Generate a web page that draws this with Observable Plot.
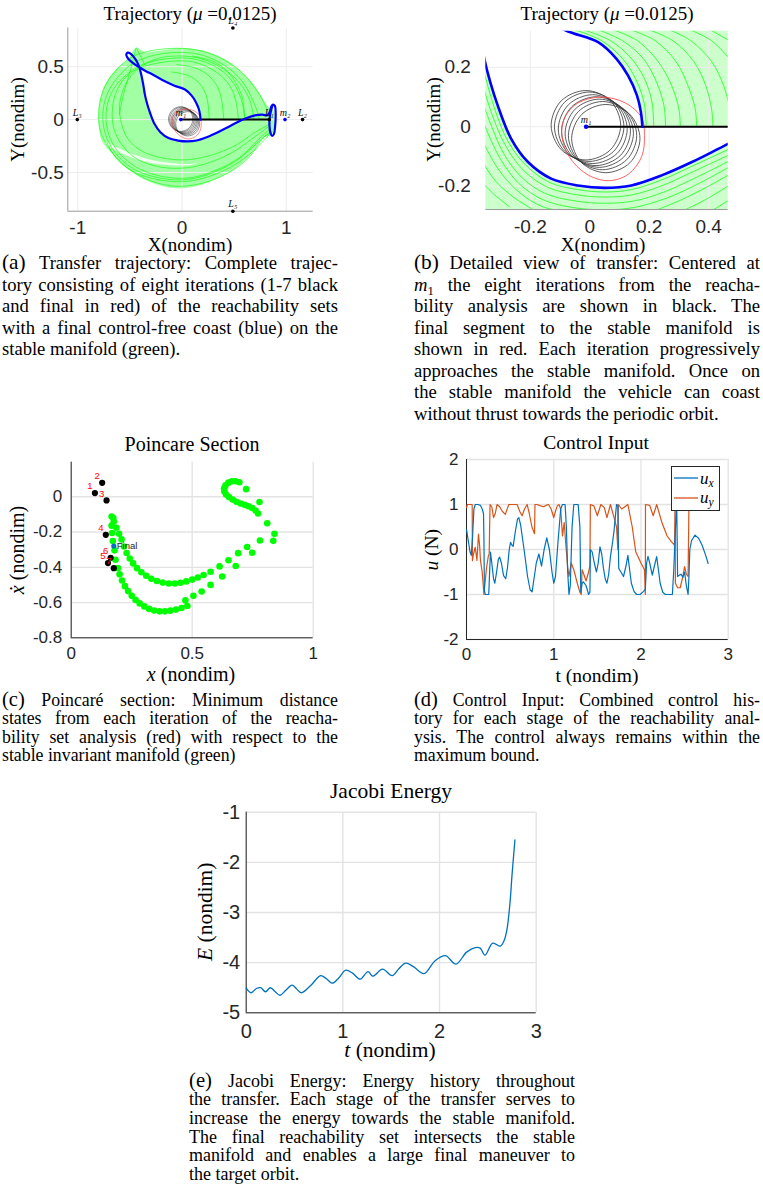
<!DOCTYPE html>
<html><head><meta charset="utf-8">
<script src="https://cdn.jsdelivr.net/npm/d3@7"></script>
<script src="https://cdn.jsdelivr.net/npm/@observablehq/plot@0.6"></script>
<style>
html,body{margin:0;padding:0;background:#fff;overflow:hidden;}
#root{position:relative;width:763px;height:1198px;overflow:hidden;background:#fff;}
.t{position:absolute;line-height:1;color:#000;white-space:nowrap;}
.cap{position:absolute;line-height:1;height:1em;color:#000;font-family:"Liberation Serif","Times New Roman",serif;text-align:justify;text-align-last:justify;}
.cap.last{text-align:left;text-align-last:left;}
.cap .lab{font-size:1.15em;line-height:0;}
sub{font-size:0.68em;vertical-align:-0.28em;line-height:0;}
</style></head><body><div id="root"></div>
<script>
// ---------------- DATA ----------------
// (a)/(b) trajectory: final control-free coast (blue)
const blueCoast = [[0.177,0.0],[0.172,0.05],[0.159,0.105],[0.129,0.172],[0.09,0.229],[0.028,0.285],[-0.073,0.321],[-0.17,0.365],[-0.27,0.42],[-0.35,0.46],[-0.41,0.495],[-0.45,0.52],[-0.49,0.55],[-0.52,0.58],[-0.535,0.61],[-0.525,0.632],[-0.5,0.628],[-0.47,0.6],[-0.44,0.56],[-0.42,0.52],[-0.41,0.495],[-0.39,0.42],[-0.372,0.33],[-0.355,0.229],[-0.335,0.15],[-0.31,0.072],[-0.265,-0.04],[-0.208,-0.119],[-0.13,-0.175],[-0.04,-0.198],[0.05,-0.206],[0.14,-0.198],[0.242,-0.164],[0.344,-0.119],[0.434,-0.074],[0.53,-0.025],[0.62,0.015],[0.7,0.04],[0.77,0.047],[0.815,0.04],[0.84,0.07],[0.855,0.12],[0.872,0.142],[0.89,0.13],[0.898,0.05],[0.893,-0.06],[0.882,-0.135],[0.865,-0.155],[0.848,-0.125],[0.838,-0.05],[0.842,0.03],[0.855,0.09],[0.868,0.14]];
// reachability iterations 1-7 (black) around m1
const iterCircles = [
 [[0.104,0.005],[0.0697,0.0877],[-0.013,0.122],[-0.0957,0.0877],[-0.13,0.005],[-0.0957,-0.0777],[-0.013,-0.112],[0.0697,-0.0777]],
 [[0.115,0.0],[0.0807,0.0827],[-0.002,0.117],[-0.0847,0.0827],[-0.119,0.0],[-0.0847,-0.0827],[-0.002,-0.117],[0.0807,-0.0827]],
 [[0.126,-0.008],[0.092,0.074],[0.01,0.108],[-0.072,0.074],[-0.106,-0.008],[-0.072,-0.09],[0.01,-0.124],[0.092,-0.09]],
 [[0.137,-0.015],[0.103,0.067],[0.021,0.101],[-0.061,0.067],[-0.095,-0.015],[-0.061,-0.097],[0.021,-0.131],[0.103,-0.097]],
 [[0.147,-0.022],[0.1133,0.0593],[0.032,0.093],[-0.0493,0.0593],[-0.083,-0.022],[-0.0493,-0.1033],[0.032,-0.137],[0.1133,-0.1033]],
 [[0.158,-0.03],[0.1243,0.0513],[0.043,0.085],[-0.0383,0.0513],[-0.072,-0.03],[-0.0383,-0.1113],[0.043,-0.145],[0.1243,-0.1113]],
 [[0.169,-0.04],[0.1353,0.0413],[0.054,0.075],[-0.0273,0.0413],[-0.061,-0.04],[-0.0273,-0.1213],[0.054,-0.155],[0.1353,-0.1213]]
];
// final segment (red)
const finalSegment = [[0.184,-0.03],[0.175,0.03],[0.12,0.08],[0.04,0.1],[-0.04,0.08],[-0.085,0.03],[-0.094,-0.03],[-0.07,-0.1],[-0.01,-0.16],[0.062,-0.182],[0.13,-0.16],[0.175,-0.1]];
// Poincare section line (black) from m1 towards L1
const sectionLine = [[-0.0125,0],[0.84,0]];
// stable manifold (green) in (a): envelope, white gaps, and traced trajectories
const aBandOuter = [[-0.44,0.68],[-0.36,0.64],[-0.22,0.65],[-0.05,0.675],[0.1,0.67],[0.25,0.64],[0.43,0.56],[0.57,0.45],[0.68,0.34],[0.77,0.21],[0.83,0.12],[0.87,0.1],[0.89,0.02],[0.88,-0.1],[0.85,-0.15],[0.78,-0.17],[0.7,-0.27],[0.62,-0.37],[0.5,-0.47],[0.39,-0.53],[0.17,-0.62],[-0.06,-0.65],[-0.31,-0.59],[-0.53,-0.46],[-0.69,-0.3],[-0.77,-0.2],[-0.8,-0.05],[-0.8,0.1],[-0.78,0.22],[-0.73,0.35],[-0.63,0.48],[-0.52,0.57]];
const aGapTeardrop = [[0.177,0.0],[0.159,0.105],[0.129,0.172],[0.09,0.229],[0.028,0.285],[-0.073,0.321],[-0.17,0.365],[-0.27,0.42],[-0.35,0.46],[-0.41,0.495],[-0.39,0.42],[-0.372,0.33],[-0.355,0.229],[-0.31,0.072],[-0.265,-0.04],[-0.208,-0.119],[-0.13,-0.175],[-0.04,-0.198],[0.05,-0.206],[0.14,-0.198],[0.242,-0.164],[0.344,-0.119],[0.434,-0.074],[0.53,-0.025],[0.57,-0.005],[0.177,-0.005]];
const aGapCrescent = [[-0.74,-0.21],[-0.62,-0.265],[-0.45,-0.335],[-0.28,-0.385],[-0.1,-0.412],[0.05,-0.42],[0.14,-0.415],[0.05,-0.432],[-0.1,-0.432],[-0.28,-0.412],[-0.45,-0.37],[-0.62,-0.3],[-0.74,-0.225]];
const aManifold = [
 [[0.86,-0.12],[0.78,-0.17],[0.64,-0.36],[0.45,-0.5],[0.2,-0.6],[-0.05,-0.63],[-0.3,-0.58],[-0.52,-0.46],[-0.68,-0.3],[-0.78,-0.12],[-0.8,0.05],[-0.78,0.2],[-0.72,0.35],[-0.62,0.48],[-0.5,0.58],[-0.35,0.64],[-0.15,0.67],[0.05,0.67],[0.25,0.63],[0.43,0.55],[0.58,0.44],[0.7,0.3],[0.78,0.17],[0.83,0.05],[0.84,0.0]],
 [[0.85,-0.08],[0.72,-0.2],[0.55,-0.36],[0.32,-0.48],[0.08,-0.55],[-0.18,-0.54],[-0.42,-0.46],[-0.6,-0.32],[-0.7,-0.15],[-0.73,0.03],[-0.7,0.2],[-0.62,0.34],[-0.5,0.45],[-0.36,0.53],[-0.18,0.59],[0.02,0.6],[0.2,0.57],[0.36,0.5],[0.5,0.4],[0.6,0.28],[0.66,0.15],[0.69,0.0]],
 [[0.85,-0.04],[0.7,-0.12],[0.52,-0.24],[0.3,-0.33],[0.05,-0.38],[-0.2,-0.36],[-0.4,-0.29],[-0.52,-0.18],[-0.58,-0.04],[-0.6,0.12],[-0.57,0.27],[-0.5,0.4],[-0.42,0.48],[-0.3,0.52],[-0.12,0.55],[0.08,0.55],[0.24,0.5],[0.38,0.41],[0.47,0.3],[0.52,0.16],[0.54,0.0]],
 [[0.84,-0.14],[0.68,-0.3],[0.5,-0.43],[0.28,-0.53],[0.04,-0.585],[-0.22,-0.57],[-0.45,-0.5],[-0.62,-0.38],[-0.72,-0.22]],
 [[0.85,-0.11],[0.7,-0.24],[0.52,-0.39],[0.3,-0.5],[0.06,-0.565],[-0.2,-0.555],[-0.44,-0.48],[-0.61,-0.35],[-0.72,-0.18],[-0.76,0.0],[-0.74,0.18],[-0.67,0.33],[-0.56,0.46],[-0.44,0.55],[-0.26,0.61],[-0.05,0.635],[0.15,0.62],[0.32,0.56],[0.48,0.46],[0.6,0.33],[0.68,0.18],[0.73,0.05],[0.74,0.0]],
 [[0.84,-0.06],[0.7,-0.16],[0.5,-0.3],[0.28,-0.4],[0.05,-0.455],[-0.2,-0.45],[-0.42,-0.38],[-0.56,-0.26],[-0.65,-0.1],[-0.67,0.07],[-0.64,0.24],[-0.56,0.38],[-0.45,0.47],[-0.3,0.545],[-0.1,0.58],[0.1,0.575],[0.28,0.52],[0.42,0.43],[0.52,0.3],[0.58,0.15],[0.6,0.0]],
 [[-0.1,0.45],[0.05,0.42],[0.15,0.36],[0.22,0.26],[0.25,0.14],[0.26,0.0]],
 [[-0.05,0.52],[0.12,0.49],[0.25,0.42],[0.34,0.31],[0.38,0.18],[0.4,0.0]],
 [[0.1,0.6],[0.3,0.55],[0.43,0.46],[0.52,0.34],[0.58,0.2],[0.6,0.0]],
 [[-0.6,0.05],[-0.56,0.25],[-0.5,0.45],[-0.46,0.6],[-0.44,0.675],[-0.41,0.62],[-0.36,0.52]]
];
// stable manifold (green) in the detailed view (b)
const bFanUpper = [[-0.08,0.33],[-0.073,0.321],[0.028,0.285],[0.09,0.229],[0.129,0.172],[0.159,0.105],[0.172,0.05],[0.177,0.0],[0.48,0.0],[0.48,0.33]];
const bFanLower = [[-0.36,0.24],[-0.355,0.229],[-0.335,0.15],[-0.31,0.072],[-0.265,-0.04],[-0.208,-0.119],[-0.13,-0.175],[-0.04,-0.198],[0.05,-0.206],[0.14,-0.198],[0.242,-0.164],[0.344,-0.119],[0.434,-0.074],[0.48,-0.05],[0.48,-0.29],[-0.36,-0.29]];
const bManifold = [
 [[-0.06,0.33],[0.04,0.29],[0.11,0.23],[0.155,0.16],[0.183,0.08],[0.19,0.0]],
 [[-0.03,0.33],[0.07,0.29],[0.14,0.23],[0.185,0.16],[0.21,0.08],[0.215,0.0]],
 [[0.02,0.33],[0.11,0.29],[0.18,0.23],[0.225,0.15],[0.25,0.07],[0.255,0.0]],
 [[0.07,0.33],[0.16,0.29],[0.23,0.22],[0.275,0.14],[0.3,0.06],[0.305,0.0]],
 [[0.13,0.33],[0.22,0.29],[0.29,0.22],[0.33,0.14],[0.355,0.06],[0.36,0.0]],
 [[0.19,0.33],[0.28,0.29],[0.35,0.22],[0.39,0.14],[0.41,0.06],[0.415,0.0]],
 [[0.26,0.33],[0.34,0.29],[0.41,0.22],[0.45,0.14],[0.47,0.07]],
 [[0.33,0.33],[0.41,0.29],[0.47,0.23]],
 [[0.4,0.33],[0.47,0.29]],
 [[-0.36,0.2],[-0.32,0.06],[-0.275,-0.05],[-0.215,-0.13],[-0.135,-0.188],[-0.04,-0.212],[0.05,-0.22],[0.14,-0.212],[0.24,-0.18],[0.34,-0.135],[0.48,-0.07]],
 [[-0.36,0.14],[-0.325,0.03],[-0.28,-0.07],[-0.22,-0.15],[-0.14,-0.205],[-0.04,-0.23],[0.05,-0.237],[0.14,-0.23],[0.24,-0.2],[0.34,-0.155],[0.48,-0.09]],
 [[-0.36,0.08],[-0.33,0.0],[-0.29,-0.09],[-0.23,-0.17],[-0.15,-0.225],[-0.05,-0.25],[0.05,-0.258],[0.15,-0.25],[0.25,-0.22],[0.35,-0.175],[0.48,-0.11]],
 [[-0.36,0.02],[-0.335,-0.04],[-0.3,-0.11],[-0.24,-0.19],[-0.16,-0.245],[-0.06,-0.272],[0.05,-0.28],[0.15,-0.272],[0.26,-0.24],[0.36,-0.195],[0.48,-0.13]],
 [[-0.36,-0.05],[-0.31,-0.14],[-0.25,-0.21],[-0.17,-0.265],[-0.08,-0.29]],
 [[-0.36,-0.12],[-0.32,-0.18],[-0.26,-0.235],[-0.19,-0.28]],
 [[-0.36,-0.19],[-0.32,-0.23],[-0.27,-0.27]],
 [[0.2,-0.29],[0.3,-0.25],[0.4,-0.2],[0.48,-0.155]],
 [[0.3,-0.29],[0.4,-0.24],[0.48,-0.19]],
 [[0.4,-0.29],[0.48,-0.24]]
];
// primaries and libration points
const markName = ["L₁","L₂","L₃","L₄","L₅","m₁","m₂"];
const markX = [0.837,1.156,-1.005,0.4875,0.4875,-0.0125,0.9875];
const markY = [0,0,0,0.866,-0.866,0,0];
const markKind = ["lib","lib","lib","lib","lib","primary","primary"];

// (c) Poincare section
const iterLabel = ["1","2","3","4","5","6","7"];
const iterX = [0.098,0.128,0.146,0.143,0.152,0.163,0.176];
const iterY = [0.021,0.079,-0.021,-0.216,-0.376,-0.346,-0.405];
const finalLabel = "Final";
const finalX = 0.176, finalY = -0.28;
const manifoldHookLeft = [[0.167,-0.112],[0.174,-0.121],[0.176,-0.14]];
const manifoldUpper = [[0.187,-0.176],[0.198,-0.21],[0.208,-0.242],[0.218,-0.282],[0.229,-0.319],[0.242,-0.35],[0.256,-0.378],[0.272,-0.405],[0.29,-0.428],[0.31,-0.448],[0.331,-0.465],[0.354,-0.478],[0.378,-0.487],[0.403,-0.492],[0.428,-0.492],[0.452,-0.488],[0.476,-0.48],[0.5,-0.47],[0.523,-0.458],[0.547,-0.444],[0.576,-0.425],[0.613,-0.395],[0.65,-0.36],[0.69,-0.32],[0.727,-0.285],[0.78,-0.248],[0.835,-0.25]];
const manifoldLower = [[0.167,-0.164],[0.169,-0.206],[0.172,-0.251],[0.179,-0.304],[0.183,-0.357],[0.193,-0.405],[0.2,-0.44],[0.21,-0.475],[0.222,-0.507],[0.235,-0.535],[0.25,-0.562],[0.266,-0.585],[0.283,-0.605],[0.302,-0.622],[0.322,-0.636],[0.343,-0.645],[0.365,-0.65],[0.387,-0.65],[0.41,-0.646],[0.433,-0.64],[0.456,-0.631],[0.48,-0.62],[0.505,-0.562],[0.472,-0.588],[0.539,-0.537],[0.576,-0.5],[0.624,-0.452],[0.68,-0.393],[0.748,-0.318]];
const manifoldHookRight = [[0.695,0.082],[0.68,0.088],[0.664,0.088],[0.65,0.08],[0.638,0.065],[0.632,0.048],[0.633,0.03],[0.64,0.013],[0.652,-0.002],[0.667,-0.016],[0.683,-0.028],[0.7,-0.038],[0.717,-0.046],[0.733,-0.054],[0.748,-0.064],[0.762,-0.078],[0.772,-0.095]];
const manifoldOuter = [[0.723,0.043],[0.778,-0.03],[0.81,-0.15],[0.84,-0.21]];

// (d) control input
const uxT = [0,0.02,0.04,0.055,0.07,0.085,0.1,0.13,0.16,0.18,0.195,0.2,0.205,0.215,0.255,0.265,0.275,0.29,0.31,0.325,0.345,0.365,0.38,0.4,0.425,0.45,0.47,0.49,0.505,0.52,0.535,0.56,0.585,0.6,0.62,0.66,0.7,0.73,0.752,0.77,0.8,0.83,0.86,0.89,0.92,0.95,0.98,1.0,1.02,1.05,1.08,1.1,1.13,1.145,1.16,1.175,1.19,1.21,1.23,1.28,1.3,1.31,1.325,1.34,1.37,1.4,1.415,1.42,1.44,1.465,1.49,1.51,1.53,1.55,1.57,1.59,1.61,1.63,1.65,1.67,1.69,1.71,1.72,1.735,1.745,1.77,1.8,1.83,1.85,1.87,1.89,1.92,1.95,1.99,2.03,2.05,2.065,2.08,2.1,2.13,2.15,2.18,2.2,2.22,2.25,2.28,2.36,2.375,2.39,2.405,2.41,2.415,2.42,2.44,2.46,2.48,2.5,2.52,2.54,2.55,2.56,2.58,2.62,2.66,2.7,2.74,2.77];
const uxV = [0.45,0.2,-0.05,-0.13,0.3,0.9,1.0,1.0,0.98,0.9,0.8,0.2,-0.9,-1.0,-1.0,-0.5,-0.06,-0.3,-0.65,-0.75,-0.5,-0.22,-0.17,-0.3,-0.58,-0.65,-0.4,0.0,0.16,0.1,0.07,0.4,0.68,0.71,0.55,0.0,-0.6,-0.9,-0.94,-0.7,-0.3,-0.1,-0.37,0.0,0.26,0.0,-0.5,-0.75,-0.6,0.2,0.9,1.0,1.0,0.5,-0.5,-1.0,-0.8,0.5,1.0,1.0,0.5,-0.95,-0.75,-0.72,-0.8,-1.0,-0.95,0.0,-0.05,-0.3,-0.5,-0.3,0.06,-0.1,-0.42,-0.65,-0.75,-0.55,-0.16,0.1,0.39,0.8,1.0,0.98,-0.42,-0.5,-0.6,-0.35,-0.13,-0.45,-0.75,-0.93,-1.0,-1.0,-0.93,-0.88,-0.3,-0.15,-0.3,-0.57,-0.4,-0.16,-0.45,-0.75,-0.95,-1.0,-1.0,-0.5,0.2,0.9,1.0,0.2,-0.6,-0.57,-0.55,-0.62,-0.5,-0.8,-1.0,-0.6,0.0,0.2,0.32,0.25,0.1,-0.12,-0.31];
const uyT = [0,0.01,0.065,0.068,0.08,0.1,0.12,0.137,0.15,0.16,0.18,0.2,0.215,0.23,0.25,0.26,0.265,0.27,0.29,0.31,0.33,0.35,0.38,0.41,0.445,0.47,0.485,0.54,0.58,0.61,0.637,0.665,0.695,0.72,0.75,0.78,0.785,0.81,0.85,0.885,0.91,0.94,0.97,1.0,1.02,1.04,1.06,1.08,1.1,1.12,1.135,1.16,1.175,1.2,1.23,1.27,1.3,1.315,1.325,1.345,1.37,1.4,1.415,1.42,1.46,1.5,1.54,1.58,1.61,1.65,1.69,1.72,1.735,1.74,1.78,1.85,1.9,1.94,2.0,2.04,2.05,2.052,2.1,2.14,2.18,2.24,2.3,2.35,2.385,2.39,2.395,2.42,2.45,2.48,2.5,2.52,2.54,2.55,2.56];
const uyV = [0.93,1.0,1.0,-0.25,-0.1,0.05,-0.24,0.34,0.1,-0.24,-0.5,-1.0,-0.7,-0.4,-0.15,-0.1,0.5,1.0,0.95,0.71,0.8,1.0,0.95,0.85,0.78,0.92,1.0,1.0,1.0,0.85,0.75,0.9,1.0,0.8,0.5,0.35,1.0,1.0,0.97,0.95,0.98,1.0,0.9,0.71,0.85,0.97,1.0,0.9,0.3,0.6,0.2,-0.4,-0.6,-0.3,-0.45,-0.75,-0.95,-1.0,-0.45,-0.55,-0.7,-0.5,-0.35,1.0,0.97,0.75,1.0,0.93,0.71,1.0,0.72,0.5,0.0,1.0,0.9,1.0,0.5,-0.05,-0.3,-0.45,-1.0,1.0,0.98,0.75,1.0,0.6,0.3,0.17,0.1,1.0,-0.75,-0.85,-0.85,-0.6,-0.38,-0.55,-0.6,1.0,1.0];

// (e) Jacobi energy
const jacT = [0,0.05,0.11,0.15,0.2,0.25,0.3,0.35,0.41,0.475,0.52,0.57,0.67,0.77,0.83,0.89,0.96,1.03,1.1,1.18,1.26,1.31,1.41,1.51,1.58,1.65,1.73,1.84,1.95,2.06,2.17,2.28,2.37,2.42,2.47,2.55,2.63,2.67,2.7,2.73,2.75,2.78];
const jacE = [-4.51,-4.6,-4.51,-4.5,-4.58,-4.5,-4.58,-4.65,-4.55,-4.45,-4.52,-4.6,-4.45,-4.26,-4.32,-4.41,-4.3,-4.15,-4.21,-4.33,-4.18,-4.27,-4.13,-4.26,-4.12,-4.01,-4.08,-4.22,-3.97,-3.86,-4.03,-3.79,-3.7,-3.71,-3.85,-3.61,-3.67,-3.55,-3.31,-2.78,-2.25,-1.55];

// ---------------- HELPERS ----------------
const root = document.getElementById("root");
const SERIF = '"Liberation Serif","Times New Roman",serif';
const SANS = '"Liberation Sans",Arial,Helvetica,sans-serif';
const fmt = d => String(d);
const P = arr => arr.map(p => ({x: p[0], y: p[1]}));
const M = curves => curves.flatMap((c, i) => c.map(p => ({x: p[0], y: p[1], id: i})));
const zipXY = (xs, ys) => xs.map((x, i) => ({x, y: ys[i]}));

function place(el, left, top) {
  el.style.position = "absolute"; el.style.left = left + "px"; el.style.top = top + "px";
  root.appendChild(el);
}
function chart(o) {
  return Plot.plot({
    width: o.w, height: o.h, marginLeft: o.ml, marginRight: o.mr, marginTop: o.mt, marginBottom: o.mb,
    x: {domain: o.xd, ticks: o.xt, tickSize: 0, tickPadding: o.xp, tickFormat: fmt, label: null},
    y: {domain: o.yd, ticks: o.yt, tickSize: 0, tickPadding: o.yp, tickFormat: fmt, label: null},
    style: {fontFamily: SANS, fontSize: o.fs + "px", color: "#262626", background: "transparent", overflow: "visible"},
    marks: o.marks
  });
}
function text(html, x, baseline, size, opt = {}) {
  const d = document.createElement("div");
  d.className = "t";
  d.innerHTML = html;
  d.style.fontFamily = opt.family || SERIF;
  d.style.fontSize = size + "px";
  d.style.top = (baseline - 0.84 * size) + "px";
  const w = opt.w || 240;
  d.style.left = (x - w / 2) + "px";
  d.style.width = w + "px";
  d.style.textAlign = "center";
  root.appendChild(d);
}
function vtext(html, cx, cy, size) {
  const d = document.createElement("div");
  d.className = "t";
  d.innerHTML = html;
  d.style.fontFamily = SERIF;
  d.style.fontSize = size + "px";
  d.style.width = "120px"; d.style.height = size + "px";
  d.style.left = (cx - 60) + "px"; d.style.top = (cy - size / 2) + "px";
  d.style.textAlign = "center";
  d.style.transform = "rotate(-90deg)";
  root.appendChild(d);
}
function caption(lines, left, width, base0, step, size) {
  lines.forEach((ln, i) => {
    const d = document.createElement("div");
    d.className = "cap" + (i === lines.length - 1 ? " last" : "");
    d.innerHTML = ln;
    d.style.left = left + "px"; d.style.width = width + "px";
    d.style.fontSize = size + "px";
    d.style.top = (base0 + i * step - 0.84 * size) + "px";
    root.appendChild(d);
  });
}
const marks = markName.map((n, i) => ({name: n, x: markX[i], y: markY[i], kind: markKind[i]}));
const kindColor = k => (k === "primary" ? "#0000ff" : "#000000");

// ---------------- (a) ----------------
const aXT = [-1, 0, 1], aYT = [-0.5, 0, 0.5];
place(chart({
  w: 380, h: 260, ml: 67.3, mr: 67.3, mt: 27.5, mb: 49.3,
  xd: [-1.096, 1.258], yd: [-0.866, 0.866], xt: aXT, yt: aYT, xp: 9, yp: 4, fs: 19,
  marks: [
    Plot.line(P(aBandOuter), {x: "x", y: "y", fill: "#00ff00", fillOpacity: 0.36, stroke: "none", curve: "catmull-rom-closed", clip: true}),
    Plot.line(P(aGapTeardrop), {x: "x", y: "y", fill: "#fff", stroke: "none", curve: "linear-closed", clip: true}),
    Plot.line(P(aGapCrescent), {x: "x", y: "y", fill: "#fff", fillOpacity: 0.85, stroke: "none", curve: "catmull-rom-closed", clip: true}),
    Plot.ruleX(aXT, {stroke: "#ededed"}),
    Plot.ruleY(aYT, {stroke: "#ededed"}),
    Plot.line(M(aManifold), {x: "x", y: "y", z: "id", stroke: "#00ff00", strokeWidth: 0.6, curve: "catmull-rom", clip: true}),
    Plot.ruleX([-1.096], {stroke: "#9a9a9a"}),
    Plot.ruleY([-0.866], {stroke: "#9a9a9a"}),
    Plot.line(M(iterCircles), {x: "x", y: "y", z: "id", stroke: "#222", strokeWidth: 0.5, curve: "catmull-rom-closed"}),
    Plot.line(P(finalSegment), {x: "x", y: "y", stroke: "#ff4040", strokeWidth: 0.6, curve: "catmull-rom-closed"}),
    Plot.line(P(sectionLine), {x: "x", y: "y", stroke: "#000", strokeWidth: 2}),
    Plot.line(P(blueCoast), {x: "x", y: "y", stroke: "#0000ff", strokeWidth: 2.2, curve: "catmull-rom"}),
    Plot.dot(marks, {x: "x", y: "y", r: 1.8, fill: d => kindColor(d.kind), stroke: "none"}),
    Plot.text(marks, {x: "x", y: "y", text: "name", dy: -7, fontSize: 10, fontStyle: "italic", fontFamily: SERIF, fill: "#111"})
  ]
}), 0, 0);

// ---------------- (b) ----------------
const bXT = [-0.2, 0, 0.2, 0.4], bYT = [-0.2, 0, 0.2];
place(chart({
  w: 383, h: 260, ml: 105.3, mr: 35.3, mt: 30.7, mb: 51,
  xd: [-0.35, 0.466], yd: [-0.279, 0.322], xt: bXT, yt: bYT, xp: 10, yp: 15, fs: 19,
  marks: [
    Plot.line(P(bFanUpper), {x: "x", y: "y", fill: "#00ff00", fillOpacity: 0.2, stroke: "none", curve: "linear-closed", clip: true}),
    Plot.line(P(bFanLower), {x: "x", y: "y", fill: "#00ff00", fillOpacity: 0.2, stroke: "none", curve: "linear-closed", clip: true}),
    Plot.ruleX(bXT, {stroke: "#ededed"}),
    Plot.ruleY(bYT, {stroke: "#ededed"}),
    Plot.line(M(bManifold), {x: "x", y: "y", z: "id", stroke: "#00ff00", strokeWidth: 0.7, curve: "catmull-rom", clip: true}),
    Plot.ruleY([-0.279], {stroke: "#9a9a9a"}),
    Plot.line(M(iterCircles), {x: "x", y: "y", z: "id", stroke: "#333", strokeWidth: 0.8, curve: "catmull-rom-closed", clip: true}),
    Plot.line(P(finalSegment), {x: "x", y: "y", stroke: "#ff5050", strokeWidth: 0.9, curve: "catmull-rom-closed", clip: true}),
    Plot.line(P(sectionLine), {x: "x", y: "y", stroke: "#000", strokeWidth: 2.2, clip: true}),
    Plot.line(P(blueCoast), {x: "x", y: "y", stroke: "#0000ff", strokeWidth: 2.6, curve: "catmull-rom", clip: true}),
    Plot.dot(marks.filter(d => d.name === "m₁"), {x: "x", y: "y", r: 2.2, fill: "#0000ff", stroke: "none"}),
    Plot.text(marks.filter(d => d.name === "m₁"), {x: "x", y: "y", text: "name", dy: -7, fontSize: 10, fontStyle: "italic", fontFamily: SERIF, fill: "#111"})
  ]
}), 380, 0);

// ---------------- (c) ----------------
const cXT = [0, 0.5, 1], cYT = [0, -0.2, -0.4, -0.6, -0.8];
const iters = iterX.map((x, i) => ({x, y: iterY[i], label: iterLabel[i]}));
const greenPts = P([...manifoldHookLeft, ...manifoldUpper, ...manifoldLower, ...manifoldHookRight, ...manifoldOuter]);
place(chart({
  w: 380, h: 260, ml: 70.7, mr: 67.3, mt: 31.7, mb: 52.7,
  xd: [0, 1], yd: [-0.8, 0.196], xt: cXT, yt: cYT, xp: 9, yp: 9, fs: 17,
  marks: [
    Plot.ruleX(cXT, {stroke: "#e3e3e3", strokeWidth: 1.3}),
    Plot.ruleY(cYT, {stroke: "#e3e3e3", strokeWidth: 1.3}),
    Plot.ruleX([0], {stroke: "#262626"}),
    Plot.ruleY([-0.8], {stroke: "#262626"}),
    Plot.dot(greenPts, {x: "x", y: "y", r: 3.3, fill: "#00ff00", stroke: "none"}),
    Plot.dot(iters, {x: "x", y: "y", r: 3.1, fill: "#000", stroke: "none"}),
    Plot.dot([{x: finalX, y: finalY}], {x: "x", y: "y", r: 2.6, fill: "#0072BD", stroke: "none"}),
    Plot.text(iters, {x: "x", y: "y", text: "label", dx: -5, dy: -7, fontSize: 9.5, fontFamily: SANS, fill: "#ff0000"}),
    Plot.text([{x: finalX, y: finalY, t: finalLabel}], {x: "x", y: "y", text: "t", dx: 3, textAnchor: "start", fontSize: 9.5, fontFamily: SANS, fill: "#222"})
  ]
}), 0, 430);

// ---------------- (d) ----------------
const dXT = [0, 1, 2, 3], dYT = [-2, -1, 0, 1, 2];
place(chart({
  w: 383, h: 260, ml: 86, mr: 35.3, mt: 29, mb: 51,
  xd: [0, 3], yd: [-2, 2], xt: dXT, yt: dYT, xp: 8, yp: 8, fs: 17,
  marks: [
    Plot.ruleX(dXT, {stroke: "#e3e3e3", strokeWidth: 1.3}),
    Plot.ruleY(dYT, {stroke: "#e3e3e3", strokeWidth: 1.3}),
    Plot.ruleX([0], {stroke: "#262626"}),
    Plot.ruleY([-2], {stroke: "#262626"}),
    Plot.line(zipXY(uyT, uyV), {x: "x", y: "y", stroke: "#D95319", strokeWidth: 1.2}),
    Plot.line(zipXY(uxT, uxV), {x: "x", y: "y", stroke: "#0072BD", strokeWidth: 1.2})
  ]
}), 380, 430);

// ---------------- (e) ----------------
const eXT = [0, 1, 2, 3], eYT = [-5, -4, -3, -2, -1];
place(chart({
  w: 400, h: 280, ml: 65.7, mr: 44.3, mt: 31.7, mb: 47.7,
  xd: [0, 3], yd: [-5, -1], xt: eXT, yt: eYT, xp: 10.5, yp: 6, fs: 20,
  marks: [
    Plot.ruleX(eXT, {stroke: "#e3e3e3", strokeWidth: 1.4}),
    Plot.ruleY(eYT, {stroke: "#e3e3e3", strokeWidth: 1.4}),
    Plot.ruleX([0], {stroke: "#262626"}),
    Plot.ruleY([-5], {stroke: "#262626"}),
    Plot.line(zipXY(jacT, jacE), {x: "x", y: "y", stroke: "#0072BD", strokeWidth: 1.3, curve: "catmull-rom"})
  ]
}), 180, 780);

// ---------------- legend (d) ----------------
const leg = document.createElement("div");
leg.style.cssText = "position:absolute;left:671px;top:466px;width:49px;height:45px;box-sizing:border-box;border:1px solid #262626;background:#fff;";
leg.innerHTML = '<svg width="47" height="43" style="position:absolute;left:0;top:0"><line x1="2" y1="11" x2="26" y2="11" stroke="#0072BD" stroke-width="1.3"/><line x1="2" y1="31" x2="26" y2="31" stroke="#D95319" stroke-width="1.3"/></svg>' +
  '<div class="t" style="left:28px;top:3px;font-family:' + SERIF.replace(/"/g, "'") + ';font-size:17px;font-style:italic">u<sub>x</sub></div>' +
  '<div class="t" style="left:28px;top:22px;font-family:' + SERIF.replace(/"/g, "'") + ';font-size:17px;font-style:italic">u<sub>y</sub></div>';
root.appendChild(leg);

// ---------------- titles & axis labels ----------------
text("Trajectory (<i>μ</i> =0.0125)", 190, 20, 19);
text("Trajectory (<i>μ</i> =0.0125)", 607, 20, 19);
text("X(nondim)", 190, 251, 19, {w: 110});
text("X(nondim)", 603, 251, 19, {w: 110});
vtext("Y(nondim)", 17, 119, 19);
vtext("Y(nondim)", 433, 119, 19);
text("Poincare Section", 192, 451, 20);
text("<i>x</i> (nondim)", 191, 681, 20, {w: 120});
vtext("<i>ẋ</i> (nondim)", 17, 550, 20);
text("Control Input", 596, 449, 19.5);
text("t (nondim)", 597, 682, 19.5, {w: 110});
vtext("<i>u</i> (N)", 432, 550, 19.5);
text("Jacobi Energy", 391, 799, 21.5);
text("<i>t</i> (nondim)", 390, 1058, 21.5, {w: 120});
vtext("<i>E</i> (nondim)", 206, 912, 21.5);

// ---------------- captions ----------------
caption([
  '<span class="lab">(a)</span> Transfer trajectory: Complete trajec-',
  'tory consisting of eight iterations (1-7 black',
  'and final in red) of the reachability sets',
  'with a final control-free coast (blue) on the',
  'stable manifold (green).'
], 2, 336, 270, 21.5, 18.6);
caption([
  '<span class="lab">(b)</span> Detailed view of transfer: Centered at',
  '<i>m</i><sub>1</sub> the eight iterations from the reacha-',
  'bility analysis are shown in black. The',
  'final segment to the stable manifold is',
  'shown in red. Each iteration progressively',
  'approaches the stable manifold. Once on',
  'the stable manifold the vehicle can coast',
  'without thrust towards the periodic orbit.'
], 414, 346, 270, 21.5, 18.6);
caption([
  '<span class="lab">(c)</span> Poincaré section: Minimum distance',
  'states from each iteration of the reacha-',
  'bility set analysis (red) with respect to the',
  'stable invariant manifold (green)'
], 2, 336, 707, 18.4, 17.8);
caption([
  '<span class="lab">(d)</span> Control Input: Combined control his-',
  'tory for each stage of the reachability anal-',
  'ysis. The control always remains within the',
  'maximum bound.'
], 414, 346, 707, 18.4, 17.8);
caption([
  '<span class="lab">(e)</span> Jacobi Energy: Energy history throughout',
  'the transfer. Each stage of the transfer serves to',
  'increase the energy towards the stable manifold.',
  'The final reachability set intersects the stable',
  'manifold and enables a large final maneuver to',
  'the target orbit.'
], 189, 386, 1087, 18.6, 18);
</script></body></html>
